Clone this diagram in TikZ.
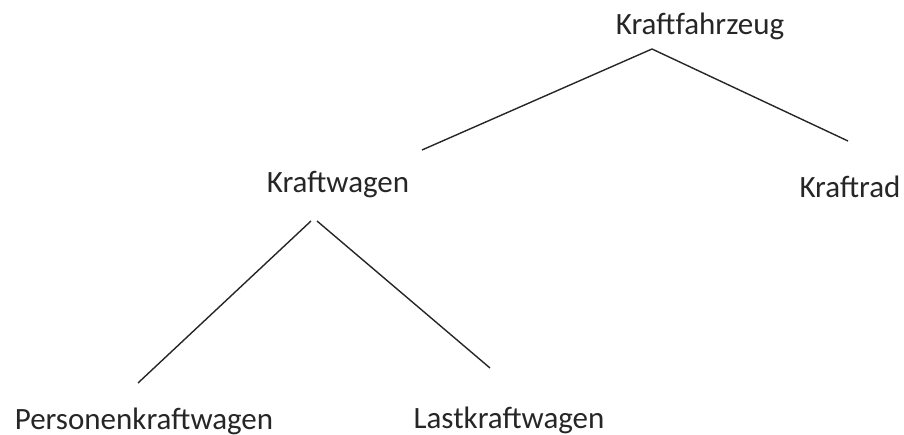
\documentclass[tikz,border=0pt]{standalone}
\usepackage{fontspec}
\setmainfont{Carlito}
\begin{document}
\begin{tikzpicture}[x=1pt,y=-1pt,
  lbl/.style={anchor=base,inner sep=0pt,font=\fontsize{31}{37}\selectfont,text=black!85},
  edge/.style={draw=black!85,line width=1.4pt}]
\useasboundingbox (0,0) rectangle (904,435);
\node[lbl] (kfz) at (700,35) {Kraftfahrzeug};
\node[lbl] (kw) at (338,193) {Kraftwagen};
\node[lbl] (kr) at (850,198) {Kraftrad};
\node[lbl] (pkw) at (144,429) {Personenkraftwagen};
\node[lbl] (lkw) at (509,428) {Lastkraftwagen};
\coordinate (kfzb) at (652,49);
\coordinate (kwt) at (422,150);
\coordinate (krt) at (848,141);
\coordinate (kwbl) at (311,221);
\coordinate (kwbr) at (317,221);
\coordinate (pkwt) at (138,383);
\coordinate (lkwt) at (490,368);
\draw[edge] (kfzb) -- (kwt);
\draw[edge] (kfzb) -- (krt);
\draw[edge] (kwbl) -- (pkwt);
\draw[edge] (kwbr) -- (lkwt);
\end{tikzpicture}
\end{document}
